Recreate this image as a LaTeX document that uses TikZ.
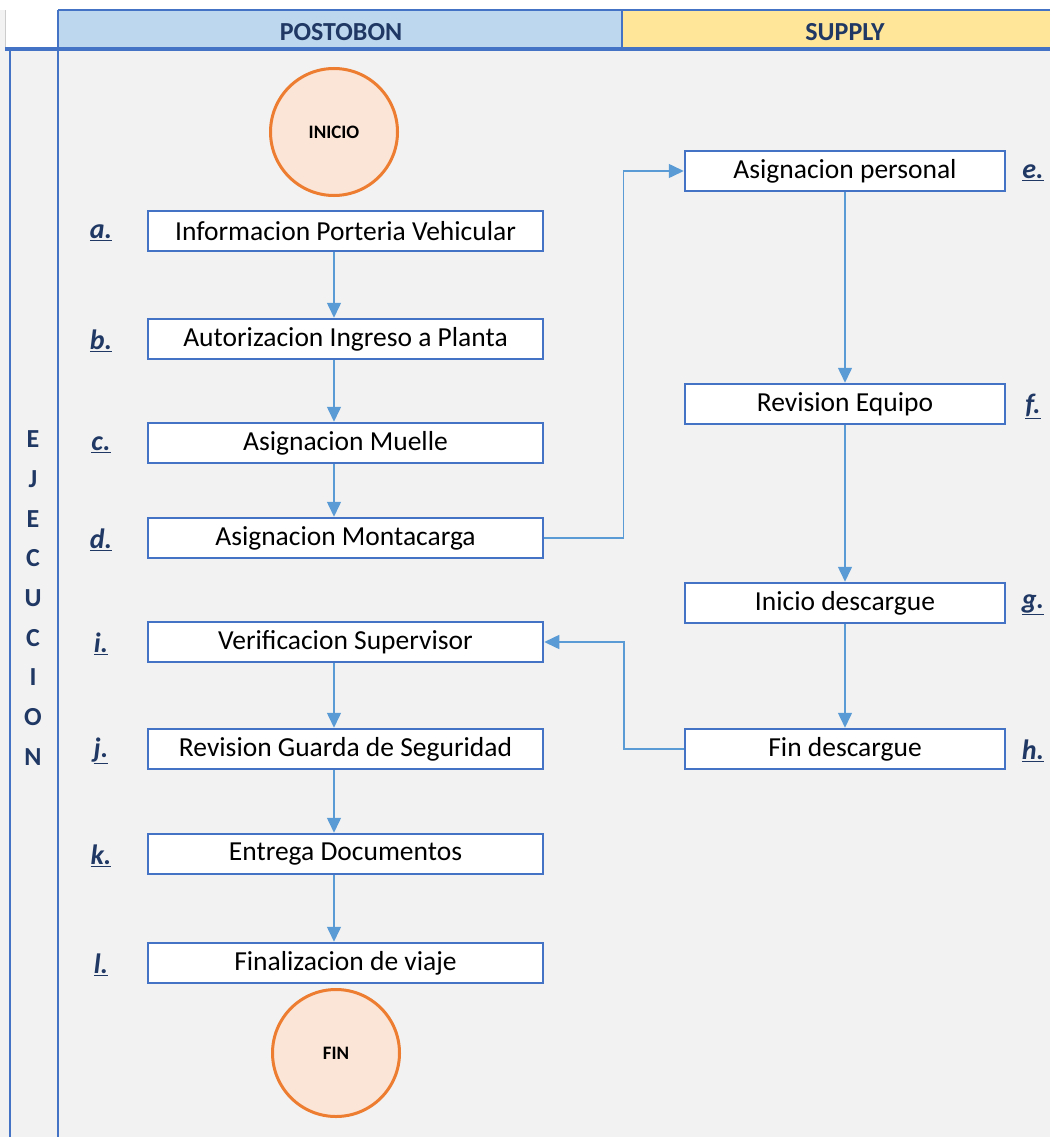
\documentclass[tikz,border=0pt]{standalone}
\usepackage{fontspec}
\setmainfont{Carlito}
\usetikzlibrary{arrows.meta,positioning}
\definecolor{azul}{HTML}{4472C4}
\definecolor{azulflecha}{HTML}{5B9BD5}
\definecolor{marino}{HTML}{1F3864}
\definecolor{naranja}{HTML}{ED7D31}
\definecolor{durazno}{HTML}{FBE5D6}
\definecolor{celeste}{HTML}{BDD7EE}
\definecolor{amarillo}{HTML}{FFE699}
\definecolor{fondo}{HTML}{F2F2F2}
\tikzset{
  paso/.style={draw=azul, line width=2.5pt, fill=white, minimum width=395pt,
    minimum height=40pt, inner sep=0pt, font=\fontsize{27.5}{32}\selectfont},
  pasoder/.style={paso, minimum width=320pt},
  letra/.style={text=marino, font=\fontsize{28}{32}\selectfont\bfseries\itshape},
  extremo/.style={circle, draw=naranja, line width=3pt, fill=durazno,
    minimum size=127pt, font=\fontsize{19}{21}\selectfont\bfseries},
  flecha/.style={draw=azulflecha, line width=1.5pt, -{Triangle[length=15pt,width=14pt]}},
  titulo/.style={text=marino, font=\fontsize{26}{30}\selectfont\bfseries}
}
\begin{document}
\begin{tikzpicture}[x=1pt, y=-1pt]
\useasboundingbox (0,0) rectangle (1050,1137);
% fondo y carriles
\fill[fondo] (0,0) rectangle (1050,1137);
\fill[white] (0,0) rectangle (1050,10);
\fill[white] (5,10) rectangle (58,49);
\fill[celeste] (58,10) rectangle (622,49);
\fill[amarillo] (622,10) rectangle (1050,49);
\draw[gray!40, line width=1pt] (5,10) -- (5,49);
\draw[azul, line width=2pt] (58,10) -- (1050,10);
\draw[azul, line width=2pt] (622,10) -- (622,49);
\draw[azul, line width=4pt] (5,49) -- (1050,49);
\draw[azul, line width=2.5pt] (58,10) -- (58,1137);
\draw[azul, line width=1.2pt] (10,49) -- (10,1137);
\node[titulo] (postobon) at (341,32) {POSTOBON};
\node[titulo] (supply) at (845,32) {SUPPLY};
\node[text=marino, align=center, font=\fontsize{26}{39.7}\selectfont\bfseries]
  (ejecucion) at (33,598) {E\\J\\E\\C\\U\\C\\I\\O\\N};
% inicio y fin
\node[extremo] (ini) at (334,132) {INICIO};
\node[extremo] (fin) at (336,1053) {FIN};
% pasos postobon
\node[paso] (a) at (345.5,231) {Informacion Porteria Vehicular};
\node[paso] (b) at (345.5,339) {Autorizacion Ingreso a Planta};
\node[paso] (c) at (345.5,443) {Asignacion Muelle};
\node[paso] (d) at (345.5,538) {Asignacion Montacarga};
\node[paso] (i) at (345.5,642) {Verificacion Supervisor};
\node[paso] (j) at (345.5,749) {Revision Guarda de Seguridad};
\node[paso] (k) at (345.5,854) {Entrega Documentos};
\node[paso] (l) at (345.5,963) {Finalizacion de viaje};
% pasos supply
\node[pasoder] (e) at (845,171) {Asignacion personal};
\node[pasoder] (f) at (845,404) {Revision Equipo};
\node[pasoder] (g) at (845,603) {Inicio descargue};
\node[pasoder] (h) at (845,749) {Fin descargue};
% letras
\node[letra] (la) at (101,233) {\underline{a.}};
\node[letra] (lb) at (101,341) {\underline{b.}};
\node[letra] (lc) at (101,445) {\underline{c.}};
\node[letra] (ld) at (101,540) {\underline{d.}};
\node[letra] (li) at (101,644) {\underline{i.}};
\node[letra] (lj) at (101,751) {\underline{j.}};
\node[letra] (lk) at (101,856) {\underline{k.}};
\node[letra] (ll) at (101,965) {\underline{l.}};
\node[letra] (le) at (1033,173) {\underline{e.}};
\node[letra] (lf) at (1033,406) {\underline{f.}};
\node[letra] (lg) at (1033,605) {\underline{g.}};
\node[letra] (lh) at (1033,751) {\underline{h.}};
% flechas
\draw[flecha] (a.south -| ini) -- (b.north -| ini);
\draw[flecha] (b.south -| ini) -- (c.north -| ini);
\draw[flecha] (c.south -| ini) -- (d.north -| ini);
\draw[flecha] (i.south -| ini) -- (j.north -| ini);
\draw[flecha] (j.south -| ini) -- (k.north -| ini);
\draw[flecha] (k.south -| ini) -- (l.north -| ini);
\draw[flecha] (d.east) -- ++(79,0) |- (e.west);
\draw[flecha] (e) -- (f);
\draw[flecha] (f) -- (g);
\draw[flecha] (g) -- (h);
\draw[flecha] (h.west) -- ++(-60,0) |- (i.east);
\end{tikzpicture}
\end{document}
